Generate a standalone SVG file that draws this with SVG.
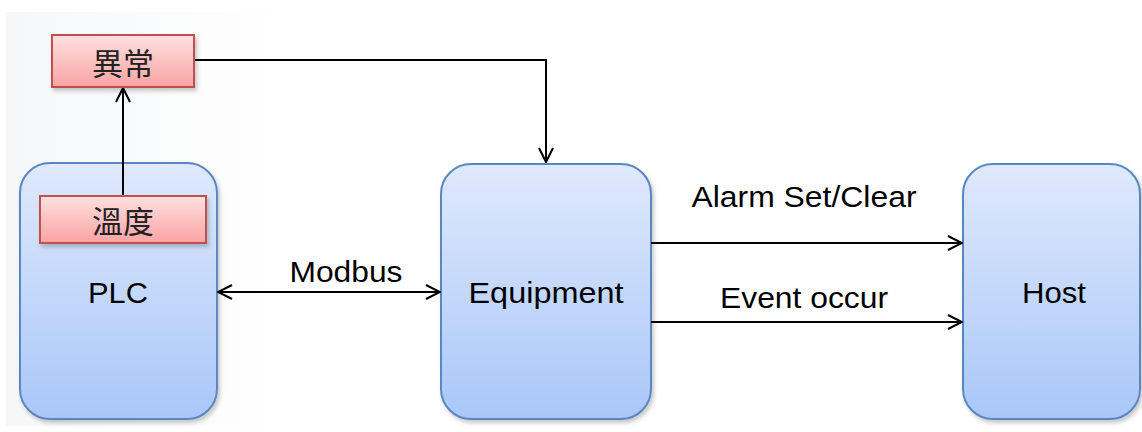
<svg xmlns="http://www.w3.org/2000/svg" width="1142" height="432" viewBox="0 0 1142 432">
  <defs>
    <linearGradient id="blueFill" x1="0" y1="0" x2="0" y2="1">
      <stop offset="0" stop-color="#dfe9fc"/>
      <stop offset="1" stop-color="#a9c7f9"/>
    </linearGradient>
    <linearGradient id="redFill" x1="0" y1="0" x2="0" y2="1">
      <stop offset="0" stop-color="#ffe0e0"/>
      <stop offset="1" stop-color="#f9a3a3"/>
    </linearGradient>
    <linearGradient id="bgFill" x1="0" y1="0" x2="1" y2="0">
      <stop offset="0" stop-color="#f6f7f9"/>
      <stop offset="0.25" stop-color="#ffffff"/>
    </linearGradient>
    <filter id="shadow" x="-10%" y="-10%" width="130%" height="130%">
      <feDropShadow dx="2" dy="3" stdDeviation="2" flood-color="#000" flood-opacity="0.22"/>
    </filter>
    <marker id="arrowOpen" viewBox="0 0 16 16" refX="15" refY="8" markerWidth="16" markerHeight="16" markerUnits="userSpaceOnUse" orient="auto-start-reverse">
      <path d="M1,1 L15,8 L1,15" fill="none" stroke="#000" stroke-width="2"/>
    </marker>
    <style>
      .node { fill: url(#blueFill); stroke: #5a87c0; stroke-width: 2; filter: url(#shadow); }
      .tag { fill: url(#redFill); stroke: #c0504d; stroke-width: 2; filter: url(#shadow); }
      .conn { fill: none; stroke: #000; stroke-width: 2; }
      .label { font-family: "Liberation Sans", Arial, sans-serif; font-size: 30px; fill: #000; text-anchor: middle; }
      .cjk { font-family: "Noto Sans CJK TC", "Noto Sans CJK SC", sans-serif; font-size: 31px; fill: #222; text-anchor: middle; }
    </style>
  </defs>

  <!-- page backdrop -->
  <rect x="0" y="0" width="1142" height="432" fill="#ffffff"/>
  <rect x="6" y="12" width="1136" height="414" fill="url(#bgFill)"/>

  <!-- main blocks -->
  <g id="plc">
    <rect class="node" x="20" y="163" width="197" height="256" rx="30"/>
    <text class="label" x="118" y="303" textLength="60" lengthAdjust="spacingAndGlyphs">PLC</text>
  </g>
  <g id="equipment">
    <rect class="node" x="441" y="164" width="210" height="255" rx="30"/>
    <text class="label" x="546" y="303" font-size="31" textLength="155" lengthAdjust="spacingAndGlyphs">Equipment</text>
  </g>
  <g id="host">
    <rect class="node" x="963" y="164" width="177" height="255" rx="30"/>
    <text class="label" x="1054" y="303" textLength="64" lengthAdjust="spacingAndGlyphs">Host</text>
  </g>

  <!-- connectors -->
  <g id="connectors">
    <line class="conn" x1="123" y1="196" x2="123" y2="88" marker-end="url(#arrowOpen)"/>
    <polyline class="conn" points="194,60 546,60 546,162" marker-end="url(#arrowOpen)"/>
    <line class="conn" x1="218" y1="292" x2="440" y2="292" marker-start="url(#arrowOpen)" marker-end="url(#arrowOpen)"/>
    <line class="conn" x1="651" y1="243" x2="962" y2="243" marker-end="url(#arrowOpen)"/>
    <line class="conn" x1="651" y1="322" x2="962" y2="322" marker-end="url(#arrowOpen)"/>
    <text class="label" x="346" y="282" textLength="113" lengthAdjust="spacingAndGlyphs">Modbus</text>
    <text class="label" x="804" y="207" font-size="29" textLength="225" lengthAdjust="spacingAndGlyphs">Alarm Set/Clear</text>
    <text class="label" x="804" y="308" font-size="29" textLength="168" lengthAdjust="spacingAndGlyphs">Event occur</text>
  </g>

  <!-- signal tags -->
  <g id="temperature">
    <rect class="tag" x="40" y="196" width="166" height="47"/>
    <text class="cjk" x="123" y="233">溫度</text>
  </g>
  <g id="abnormal">
    <rect class="tag" x="52" y="35" width="142" height="52"/>
    <text class="cjk" x="123" y="75">異常</text>
  </g>
</svg>
